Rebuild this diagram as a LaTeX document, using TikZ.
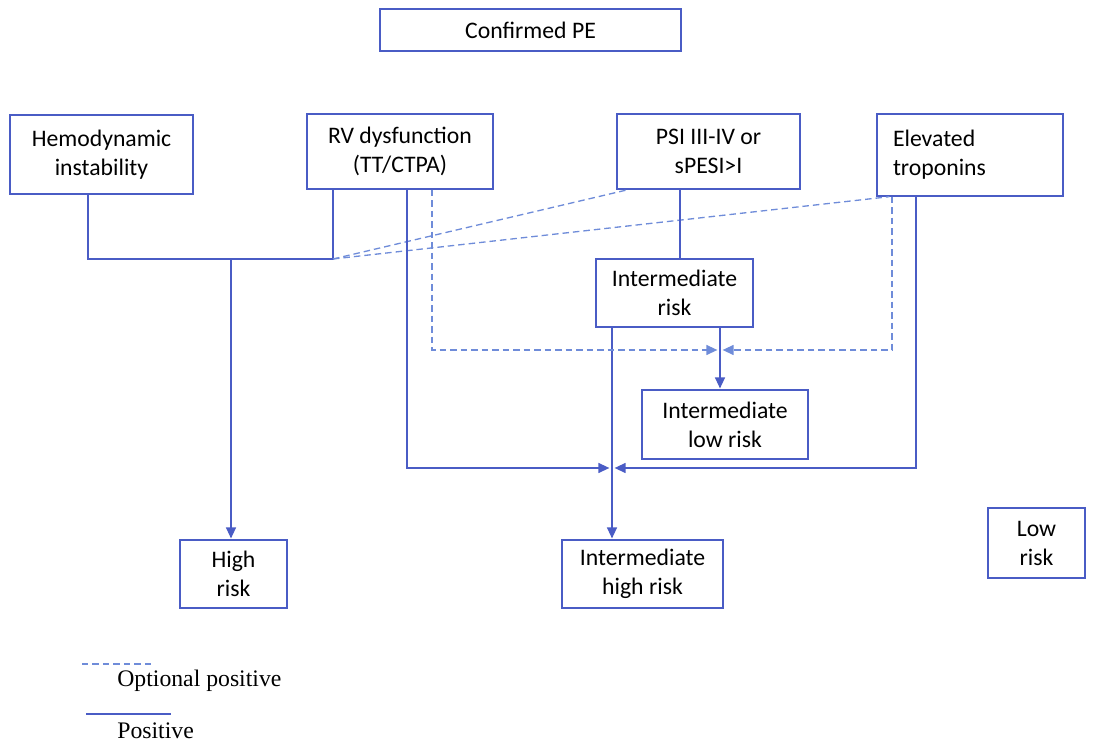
\documentclass[tikz,border=0pt]{standalone}
\usepackage{fontspec}
\setmainfont{Carlito}
\newfontfamily\legendfont{Liberation Serif}
\usetikzlibrary{arrows.meta}
\definecolor{lineblue}{HTML}{4A5CC5}
\definecolor{dashblue}{HTML}{6F8CD9}

\begin{document}
\begin{tikzpicture}[x=0.02cm, y=-0.02cm,
  box/.style={draw=lineblue, line width=0.8pt, align=center, inner sep=0pt,
    font=\fontsize{13.5}{16.5}\selectfont},
  posline/.style={draw=lineblue, line width=0.75pt},
  optline/.style={draw=dashblue, line width=0.75pt, dash pattern=on 1.3mm off 0.8mm},
  tip/.style={-{Triangle[length=2.2mm, width=2mm]}, shorten >=0.5pt},
  legend/.style={anchor=west, inner sep=0pt, font=\legendfont\fontsize{13.5}{16}\selectfont}]
  \useasboundingbox (0,0) rectangle (1099,742);

  % ---------- Boxes ----------
  \node[box, minimum width=6.02cm, minimum height=0.84cm] (pe) at (530.5,30) {Confirmed PE};

  \node[box, minimum width=3.66cm, minimum height=1.58cm] (hemo) at (101.5,154.5) {Hemodynamic\\ instability};
  \node[box, minimum width=3.72cm, minimum height=1.50cm] (rv) at (400,151.5) {RV dysfunction\\ (TT/CTPA)};
  \node[box, minimum width=3.66cm, minimum height=1.50cm] (psi) at (708.5,151.5) {PSI III-IV or\\ sPESI>I};
  \node[box, minimum width=3.72cm, minimum height=1.64cm, text width=3.08cm, align=left] (trop) at (970,155) {Elevated\\ troponins};

  \node[box, minimum width=3.14cm, minimum height=1.36cm] (irisk) at (674.5,293) {Intermediate\\ risk};
  \node[box, minimum width=3.32cm, minimum height=1.38cm] (ilow) at (725,424.5) {Intermediate\\ low risk};

  \node[box, minimum width=2.14cm, minimum height=1.36cm] (high) at (233.5,574) {High\\ risk};
  \node[box, minimum width=3.22cm, minimum height=1.36cm] (ihigh) at (642.5,574) {Intermediate\\ high risk};
  \node[box, minimum width=1.94cm, minimum height=1.40cm] (low) at (1036.5,543) {Low\\ risk};

  % ---------- Junctions ----------
  \coordinate (bus) at (333,259);
  \coordinate (highcol) at (231,0);
  \coordinate (lowjoin) at (720,350);
  \coordinate (highjoin) at (612,468);
  \coordinate (psicol) at (680,0);

  % ---------- High risk ----------
  \draw[posline] ([xshift=-0.27cm]hemo.south) |- (bus) -- (bus |- rv.south);
  \draw[posline, tip] (bus -| highcol) -- (high.north -| highcol);
  \draw[optline] (bus) -- ([xshift=-1.61cm]psi.south);
  \draw[optline] (bus) -- ([xshift=0.26cm]trop.south west);

  % ---------- Intermediate risk ----------
  \draw[posline] (psi.south -| psicol) -- (irisk.north -| psicol);
  \draw[posline, tip] (irisk.south -| lowjoin) -- (ilow.north -| lowjoin);
  \draw[posline, tip] (irisk.south -| highjoin) -- (ihigh.north -| highjoin);

  \draw[optline, tip] ([xshift=0.64cm]rv.south) |- ([xshift=-1pt]lowjoin);
  \draw[optline, tip] ([xshift=-1.56cm]trop.south) |- ([xshift=1pt]lowjoin);
  \draw[posline, tip] ([xshift=0.14cm]rv.south) |- ([xshift=-1pt]highjoin);
  \draw[posline, tip] ([xshift=-1.08cm]trop.south) |- ([xshift=1pt]highjoin);

  % ---------- Legend ----------
  \coordinate (optA) at (82,664);
  \coordinate (optB) at (155,664);
  \coordinate (posA) at (86,714);
  \coordinate (posB) at (171,714);
  \draw[optline] (optA) -- (optB);
  \node[legend] (opttext) at (117,681) {Optional positive};
  \draw[posline] (posA) -- (posB);
  \node[legend] (postext) at (117,731) {Positive};
\end{tikzpicture}
\end{document}
